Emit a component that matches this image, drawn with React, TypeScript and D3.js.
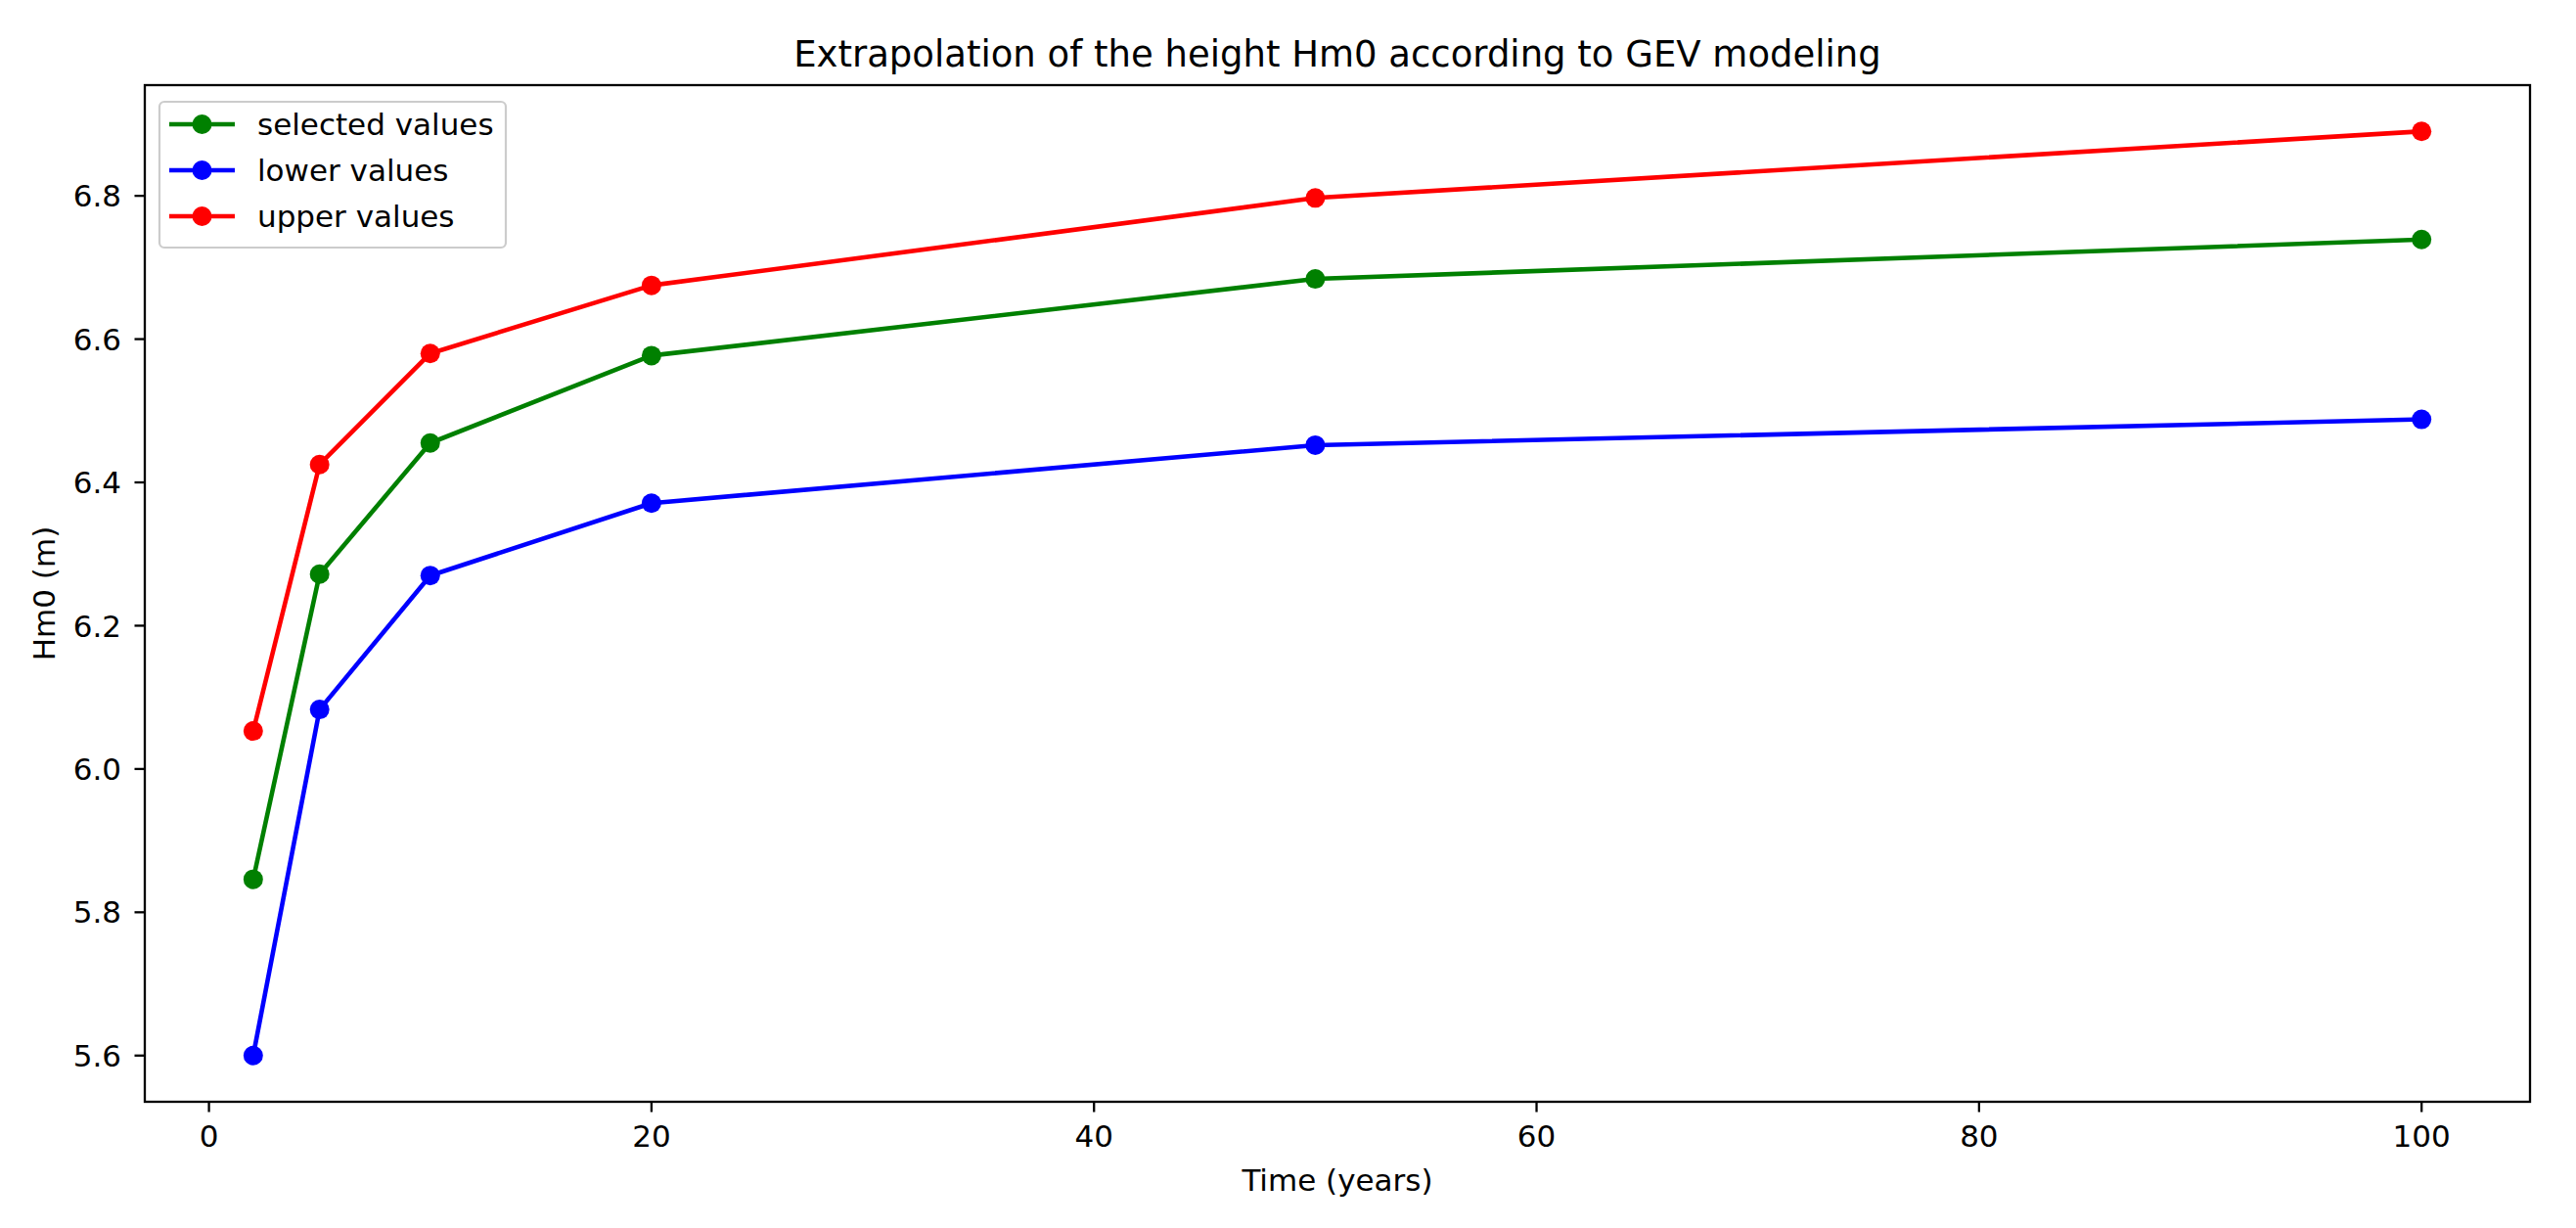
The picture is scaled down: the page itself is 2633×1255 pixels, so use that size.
import React from "react";
import * as d3 from "d3";

const years = [2, 5, 10, 20, 50, 100];
const selectedValues = [5.846, 6.272, 6.455, 6.577, 6.684, 6.739];
const lowerValues = [5.6, 6.083, 6.27, 6.371, 6.452, 6.488];
const upperValues = [6.053, 6.425, 6.58, 6.675, 6.797, 6.89];

const seriesNames = ["selected values", "lower values", "upper values"];
const seriesColors = ["#008000", "#0000ff", "#ff0000"];

const xTicks = [0, 20, 40, 60, 80, 100];
const yTicks = [5.6, 5.8, 6.0, 6.2, 6.4, 6.6, 6.8];

const titleText = "Extrapolation of the height Hm0 according to GEV modeling";
const xLabel = "Time (years)";
const yLabel = "Hm0 (m)";

const W = 2633;
const H = 1255;
const M = { left: 148, right: 2586, top: 87, bottom: 1126 };
const FONT = "'DejaVu Sans', 'Liberation Sans', sans-serif";

export default function App() {
  const allSeries = [selectedValues, lowerValues, upperValues];
  const allVals = allSeries.flat();
  const yMin = d3.min(allVals) as number;
  const yMax = d3.max(allVals) as number;
  const yPad = (yMax - yMin) * 0.05;
  const xMin = d3.min(years) as number;
  const xMax = d3.max(years) as number;
  const xPad = (xMax - xMin) * 0.05;

  const x = d3.scaleLinear().domain([xMin - xPad, xMax + xPad]).range([M.left, M.right]);
  const y = d3.scaleLinear().domain([yMin - yPad, yMax + yPad]).range([M.bottom, M.top]);

  const line = d3
    .line<number>()
    .x((_, i) => x(years[i]))
    .y((d) => y(d));

  const lw = 4.6;
  const r = 10;
  const spineW = 2.3;
  const tickLen = 10.5;
  const fs = 31;

  const legX = 163;
  const legY = 104;
  const legW = 354;
  const legH = 149;
  const rowY = [127, 174, 221];

  return (
    <div style={{ position: "absolute", left: 0, top: 0 }}>
      <svg width={W} height={H} style={{ display: "block", background: "#fff" }} fontFamily={FONT}>
        <rect x={0} y={0} width={W} height={H} fill="#fff" />
        {allSeries.map((s, si) => (
          <g key={si}>
            <path d={line(s) || ""} fill="none" stroke={seriesColors[si]} strokeWidth={lw} strokeLinejoin="round" strokeLinecap="square" />
            {s.map((v, i) => (
              <circle key={i} cx={x(years[i])} cy={y(v)} r={r} fill={seriesColors[si]} />
            ))}
          </g>
        ))}
        <rect x={M.left} y={M.top} width={M.right - M.left} height={M.bottom - M.top} fill="none" stroke="#000" strokeWidth={spineW} />
        {xTicks.map((t) => (
          <g key={t}>
            <line x1={x(t)} x2={x(t)} y1={M.bottom} y2={M.bottom + tickLen} stroke="#000" strokeWidth={spineW} />
            <text x={x(t)} y={1172} textAnchor="middle" fontSize={fs} fill="#000">
              {d3.format("d")(t)}
            </text>
          </g>
        ))}
        {yTicks.map((t) => (
          <g key={t}>
            <line x1={M.left - tickLen} x2={M.left} y1={y(t)} y2={y(t)} stroke="#000" strokeWidth={spineW} />
            <text x={124} y={y(t)} dy="0.36em" textAnchor="end" fontSize={fs} fill="#000">
              {d3.format(".1f")(t)}
            </text>
          </g>
        ))}
        <text x={(M.left + M.right) / 2} y={68} textAnchor="middle" fontSize={37} fill="#000">
          {titleText}
        </text>
        <text x={(M.left + M.right) / 2} y={1217} textAnchor="middle" fontSize={fs} fill="#000">
          {xLabel}
        </text>
        <text
          transform={`translate(56, ${(M.top + M.bottom) / 2}) rotate(-90)`}
          textAnchor="middle"
          fontSize={fs}
          fill="#000"
        >
          {yLabel}
        </text>
        <rect x={legX} y={legY} width={legW} height={legH} rx={5} ry={5} fill="#fff" fillOpacity={0.8} stroke="#cccccc" strokeWidth={2.2} />
        {seriesNames.map((n, i) => (
          <g key={n}>
            <line x1={173} x2={240} y1={rowY[i]} y2={rowY[i]} stroke={seriesColors[i]} strokeWidth={lw} />
            <circle cx={206.5} cy={rowY[i]} r={r} fill={seriesColors[i]} />
            <text x={263} y={rowY[i]} dy="0.36em" fontSize={fs} fill="#000">
              {n}
            </text>
          </g>
        ))}
      </svg>
    </div>
  );
}
